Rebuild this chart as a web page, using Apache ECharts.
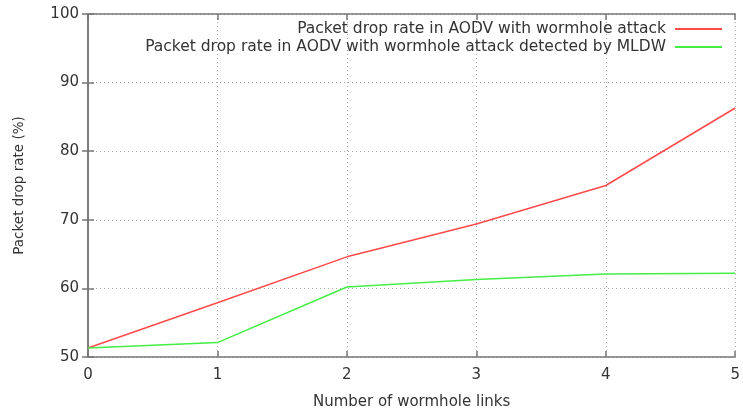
<!DOCTYPE html>
<html><head><meta charset="utf-8">
<script src="https://cdn.jsdelivr.net/npm/echarts@6/dist/echarts.min.js"></script>
<style>html,body{margin:0;padding:0;background:#fff}#c{width:743px;height:415px}</style>
</head><body><div id="c"></div>
<script>
const xValues = [0, 1, 2, 3, 4, 5];
const attackDrop = [51.3, 57.9, 64.6, 69.4, 75.0, 86.3];
const mldwDrop = [51.3, 52.1, 60.2, 61.3, 62.1, 62.2];
const seriesNames = ['Packet drop rate in AODV with wormhole attack', 'Packet drop rate in AODV with wormhole attack detected by MLDW'];
const xTitle = 'Number of wormhole links';
const yTitle = 'Packet drop rate (%)';

const font = 'DejaVu Sans';
const axisCol = '#777';
const textCol = '#333';
const chart = echarts.init(document.getElementById('c'));
const baseX = {type:'value', min:0, max:5, interval:1};
const baseY = {type:'value', min:50, max:100, interval:10};
chart.setOption({
  animation:false,
  grid:{left:88, right:4, top:14, bottom:57},
  legend:{
    orient:'vertical', right:16, top:16, align:'right', itemGap:2,
    itemWidth:47, itemHeight:2, icon:'rect',
    textStyle:{fontFamily:font, fontSize:15.5, color:textCol, padding:[0,4,0,0]},
    data:seriesNames
  },
  xAxis:[
    Object.assign({}, baseX, {position:'bottom', name:xTitle, nameLocation:'middle', nameGap:38,
      nameTextStyle:{fontFamily:font, fontSize:15, color:textCol},
      axisLine:{show:true, lineStyle:{color:axisCol, width:1.5}},
      axisTick:{show:true, inside:true, length:6, lineStyle:{color:axisCol, width:1.5}},
      axisLabel:{fontFamily:font, fontSize:15, color:textCol, margin:11},
      splitLine:{show:true, lineStyle:{color:'#aaa', type:[1,3], width:1}}}),
    Object.assign({}, baseX, {position:'top',
      axisLine:{show:true, lineStyle:{color:axisCol, width:1.5}},
      axisTick:{show:true, inside:true, length:6, lineStyle:{color:axisCol, width:1.5}},
      axisLabel:{show:false}, splitLine:{show:false}})
  ],
  yAxis:[
    Object.assign({}, baseY, {position:'left', name:yTitle, nameLocation:'middle', nameGap:62,
      nameTextStyle:{fontFamily:font, fontSize:13.5, color:textCol},
      axisLine:{show:true, lineStyle:{color:axisCol, width:1.5}},
      axisTick:{show:true, inside:true, length:6, lineStyle:{color:axisCol, width:1.5}},
      axisLabel:{fontFamily:font, fontSize:15, color:textCol, margin:9},
      splitLine:{show:true, lineStyle:{color:'#aaa', type:[1,3], width:1}}}),
    Object.assign({}, baseY, {position:'right',
      axisLine:{show:true, lineStyle:{color:axisCol, width:1.5}},
      axisTick:{show:true, inside:true, length:6, lineStyle:{color:axisCol, width:1.5}},
      axisLabel:{show:false}, splitLine:{show:false}})
  ],
  series:[
    {name:seriesNames[0], type:'line', xAxisIndex:0, yAxisIndex:0, showSymbol:false,
     data:xValues.map((x,i)=>[x, attackDrop[i]]), color:'#ff4a4a', lineStyle:{width:1.5, color:'#ff4a4a'}},
    {name:seriesNames[1], type:'line', xAxisIndex:0, yAxisIndex:0, showSymbol:false,
     data:xValues.map((x,i)=>[x, mldwDrop[i]]), color:'#44ee44', lineStyle:{width:1.5, color:'#44ee44'}}
  ]
});
</script></body></html>
